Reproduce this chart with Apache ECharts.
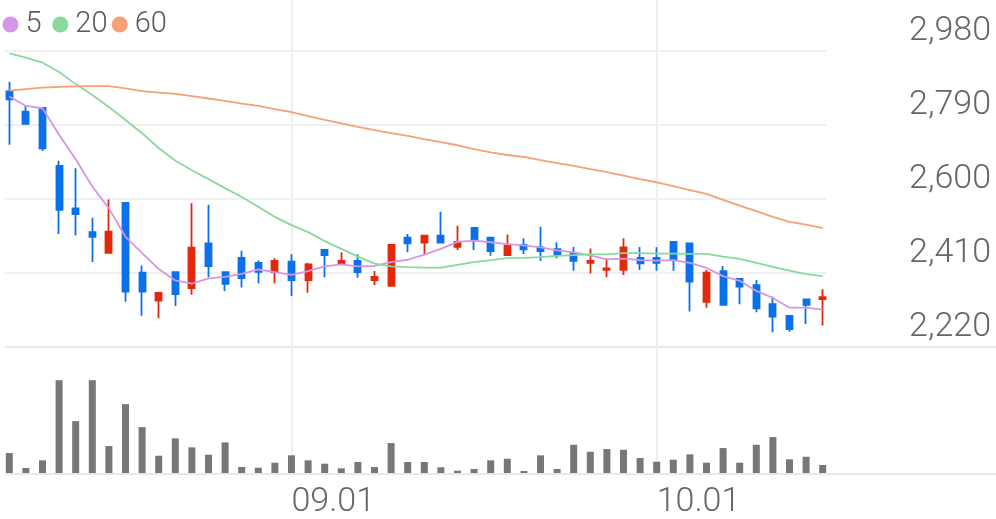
<!DOCTYPE html>
<html>
<head>
<meta charset="utf-8">
<script src="https://cdn.jsdelivr.net/npm/echarts@6/dist/echarts.min.js"></script>
<style>
  html, body { margin: 0; padding: 0; background: #ffffff; }
  #chart { width: 996px; height: 519px; }
</style>
</head>
<body>
<div id="chart"></div>
<script>
// ---- data ----
const dates = [
  '08.06','08.07','08.08','08.11','08.12','08.13','08.14','08.18','08.19','08.20',
  '08.21','08.22','08.25','08.26','08.27','08.28','08.29',
  '09.01','09.02','09.03','09.04','09.05','09.08','09.09','09.10','09.11','09.12',
  '09.15','09.16','09.17','09.18','09.19','09.22','09.23','09.24','09.25','09.26',
  '09.29','09.30',
  '10.01','10.02','10.10','10.13','10.14','10.15','10.16','10.17','10.20','10.21','10.22'
];
const xTickLabels = ['09.01', '10.01'];
const yTicks = [2220, 2410, 2600, 2790, 2980];

const openPrices  = [2876,2824,2834,2685,2576,2515,2462,2590,2411,2339,2412,2371,2486,2412,2449,2436,2412,2439,2392,2469,2435,2441,2392,2377,2501,2488,2506,2477,2526,2501,2456,2482,2476,2471,2461,2436,2418,2418,2449,2449,2490,2486,2336,2415,2395,2379,2330,2300,2342,2343];
const closePrices = [2856,2793,2730,2572,2561,2503,2516,2362,2362,2359,2356,2475,2428,2382,2397,2413,2441,2392,2432,2456,2441,2412,2400,2482,2486,2506,2488,2490,2496,2466,2480,2471,2466,2456,2441,2441,2422,2476,2435,2436,2446,2388,2411,2328,2375,2319,2298,2266,2328,2348];
const lowPrices   = [2739,2793,2723,2510,2506,2438,2462,2336,2300,2294,2325,2354,2399,2364,2373,2384,2384,2351,2359,2399,2430,2398,2379,2377,2463,2459,2488,2469,2469,2454,2456,2459,2441,2448,2416,2409,2399,2405,2418,2416,2416,2311,2321,2328,2330,2309,2258,2259,2279,2275];
const highPrices  = [2901,2839,2834,2698,2679,2552,2599,2590,2429,2362,2412,2589,2585,2412,2467,2442,2448,2458,2436,2469,2463,2458,2415,2484,2510,2506,2567,2531,2526,2501,2509,2499,2529,2489,2477,2473,2448,2499,2477,2476,2490,2486,2418,2428,2395,2392,2349,2300,2342,2368];

const ma5  = [2863,2839,2833,2765,2702,2632,2576,2503,2461,2420,2391,2383,2396,2400,2408,2419,2412,2405,2415,2427,2432,2427,2428,2438,2444,2457,2472,2490,2493,2489,2484,2481,2476,2468,2463,2455,2445,2447,2443,2442,2443,2436,2423,2402,2390,2364,2346,2321,2321,2316];
const ma20 = [2974,2963,2950,2926,2895,2867,2836,2803,2769,2731,2698,2674,2651,2628,2605,2580,2554,2533,2515,2492,2472,2452,2434,2427,2425,2424,2424,2431,2438,2443,2448,2449,2451,2454,2456,2458,2458,2461,2461,2460,2460,2459,2459,2452,2446,2436,2426,2416,2407,2402];
const ma60 = [2878,2882,2886,2888,2889,2890,2890,2884,2877,2873,2870,2864,2858,2852,2845,2839,2831,2823,2813,2803,2794,2785,2777,2769,2762,2754,2746,2738,2728,2720,2713,2708,2700,2692,2685,2677,2669,2660,2651,2643,2633,2623,2613,2598,2583,2569,2554,2541,2534,2525];

const volumes = [200000,50000,127000,930000,520000,930000,270000,690000,460000,173000,347000,257000,183000,307000,60000,53000,103000,177000,127000,93000,47000,110000,60000,300000,110000,110000,57000,23000,40000,127000,143000,20000,177000,40000,283000,213000,240000,233000,150000,113000,133000,187000,103000,250000,103000,283000,360000,137000,163000,80000];

// ---- chart ----
const UP = '#e2290c', DOWN = '#0a71ea';
const C5 = '#d595e8', C20 = '#8ad99c', C60 = '#f5a078';
const FONT = 'Roboto';

const candleData = openPrices.map((o, i) => [o, closePrices[i], lowPrices[i], highPrices[i]]);
const showTick = (idx, val) => xTickLabels.indexOf(val) >= 0;

const legendBase = {
  icon: 'circle', itemWidth: 16, itemHeight: 16, itemGap: 0, padding: 0, top: 10,
  selectedMode: false,
  textStyle: { fontFamily: FONT, fontSize: 29, fontWeight: 300, color: '#5a5a5a', padding: [0, 0, 0, 2] }
};

const chart = echarts.init(document.getElementById('chart'), null, { renderer: 'canvas' });
chart.setOption({
  animation: false,
  backgroundColor: '#ffffff',
  legend: [
    Object.assign({ data: ['5'], left: 2.5 }, legendBase),
    Object.assign({ data: ['20'], left: 52.3 }, legendBase),
    Object.assign({ data: ['60'], left: 111.7 }, legendBase)
  ],
  grid: [
    { left: 9.3, right: 173.3, top: 51, height: 296 },
    { left: 5, right: 170, top: 51, height: 296 },
    { left: 9.3, right: 173.3, top: 0, bottom: 45 },
    { left: 5, right: 0, top: 347, bottom: 45 }
  ],
  xAxis: [
    { gridIndex: 0, type: 'category', data: dates, boundaryGap: false, show: false },
    { gridIndex: 1, type: 'value', min: 0, max: 1, show: false },
    {
      gridIndex: 2, type: 'category', data: dates, boundaryGap: false,
      axisLine: { show: false }, axisTick: { show: false },
      axisLabel: {
        interval: showTick, align: 'left', margin: 12,
        fontFamily: FONT, fontSize: 34, fontWeight: 300, color: '#666'
      },
      splitLine: { show: true, interval: showTick, lineStyle: { color: '#efefef', width: 2 } }
    },
    { gridIndex: 3, type: 'value', min: 0, max: 1, show: false }
  ],
  yAxis: [
    { gridIndex: 0, type: 'value', min: 2220, max: 2980, show: false },
    {
      gridIndex: 1, type: 'category', position: 'right', boundaryGap: false,
      data: yTicks.map(v => v.toLocaleString('en-US')),
      axisLine: { show: false }, axisTick: { show: false },
      splitLine: { show: true, interval: 0, lineStyle: { color: '#f0f0f0', width: 2 } },
      axisLabel: {
        interval: 0, margin: 165, align: 'right', verticalAlign: 'bottom',
        lineHeight: 34, padding: [0, 0, 3, 0],
        fontFamily: FONT, fontSize: 34, fontWeight: 300, color: '#666'
      }
    },
    { gridIndex: 2, type: 'value', min: 0, max: 4740000, show: false },
    {
      gridIndex: 3, type: 'value', min: 0, max: 1, interval: 1,
      axisLine: { show: false }, axisTick: { show: false }, axisLabel: { show: false },
      splitLine: { show: true, lineStyle: { color: '#e8e8e8', width: 2 } }
    }
  ],
  series: [
    {
      name: 'price', type: 'candlestick', xAxisIndex: 0, yAxisIndex: 0,
      data: candleData, barWidth: 6.5, clip: false,
      itemStyle: { color: UP, color0: DOWN, borderColor: UP, borderColor0: DOWN, borderWidth: 1.8 }
    },
    {
      name: '5', type: 'line', xAxisIndex: 0, yAxisIndex: 0, data: ma5,
      showSymbol: false, symbol: 'none', color: C5,
      lineStyle: { color: C5, width: 1.8 }, itemStyle: { color: C5 }
    },
    {
      name: '20', type: 'line', xAxisIndex: 0, yAxisIndex: 0, data: ma20,
      showSymbol: false, symbol: 'none', color: C20,
      lineStyle: { color: C20, width: 1.8 }, itemStyle: { color: C20 }
    },
    {
      name: '60', type: 'line', xAxisIndex: 0, yAxisIndex: 0, data: ma60,
      showSymbol: false, symbol: 'none', color: C60,
      lineStyle: { color: C60, width: 1.8 }, itemStyle: { color: C60 }
    },
    {
      name: 'volume', type: 'bar', xAxisIndex: 2, yAxisIndex: 2, data: volumes,
      barWidth: 7, clip: false, itemStyle: { color: '#777777' }
    }
  ]
});
</script>
</body>
</html>
